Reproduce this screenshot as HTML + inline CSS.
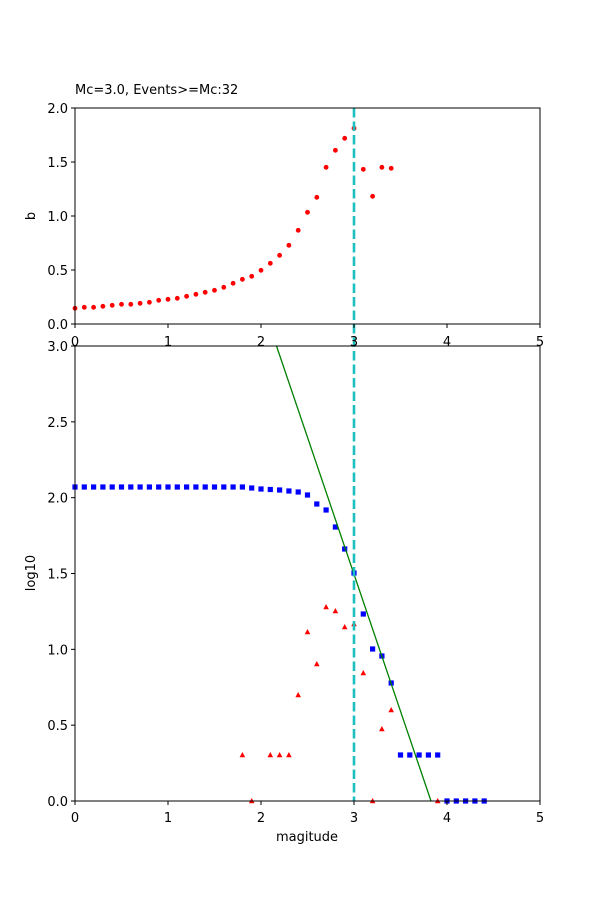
<!DOCTYPE html>
<html><head><meta charset="utf-8"><style>body{margin:0;background:#fff}svg{display:block}text{font-family:"DejaVu Sans","Liberation Sans",sans-serif;font-size:13px;fill:#000}</style></head>
<body>
<svg width="600" height="900" viewBox="0 0 600 900" xmlns="http://www.w3.org/2000/svg">
<rect width="600" height="900" fill="#fff"/>
<text x="75" y="94">Mc=3.0, Events&gt;=Mc:32</text>
<g fill="red" id="dots"></g>
<g fill="blue" id="sq"></g>
<g fill="red" id="tri"></g>
<line x1="276.5" y1="346" x2="431" y2="801" stroke="green" stroke-width="1.3"/>
<line x1="354" y1="108" x2="354" y2="801" stroke="#1ebfbf" stroke-width="2.6" stroke-dasharray="9.5,4"/>
<rect x="75" y="108" width="465" height="216" fill="none" stroke="#000" stroke-width="1"/>
<rect x="75" y="346" width="465" height="455" fill="none" stroke="#000" stroke-width="1"/>
<g stroke="#000" stroke-width="1" id="ticks"></g>
<g id="labels"></g>
<text x="35" y="216" transform="rotate(-90 35 216)" text-anchor="middle">b</text>
<text x="35" y="573" transform="rotate(-90 35 573)" text-anchor="middle">log10</text>
<text x="307" y="841" text-anchor="middle">magitude</text>
</svg>
<script>
var ns="http://www.w3.org/2000/svg";
function el(p,t,a,txt){var e=document.createElementNS(ns,t);for(var k in a)e.setAttribute(k,a[k]);if(txt!==undefined)e.textContent=txt;document.getElementById(p).appendChild(e);}
var zy=[685,682,682,679,676,673,673,670,667,661,658,655,649,643,637,631,622,610,598,589,571,550,526,496,451,397,352,262,211,175,145,268,349,262,265];
zy.forEach(function(v,i){el("dots","circle",{cx:75+9.3*i,cy:80+v/3,r:2.4});});
var sy=[487,487,487,487,487,487,487,487,487,487,487,487,487,487,487,487,487,487,487,488,489,489.5,490,491,492,495,504,510,527,549,573,614,649,656,683,755,755,755,755,755,801,801,801,801,801];
sy.forEach(function(v,i){var x=75+9.3*i;el("sq","rect",{x:x-2.6,y:v-2.6,width:5.2,height:5.2});});
var tr=[[1.8,755],[1.9,801],[2.1,755],[2.2,755],[2.3,755],[2.4,695],[2.5,632],[2.6,664],[2.7,607],[2.8,611],[2.9,627],[3.0,624],[3.1,673],[3.2,801],[3.3,729],[3.4,710],[3.9,801]];
tr.forEach(function(p){var x=75+93*p[0],y=p[1];el("tri","polygon",{points:(x-2.8)+","+(y+2.3)+" "+(x+2.8)+","+(y+2.3)+" "+x+","+(y-3)});});
for(var i=0;i<=5;i++){var x=75+93*i;
el("ticks","line",{x1:x,y1:324,x2:x,y2:328});el("ticks","line",{x1:x,y1:801,x2:x,y2:805});
el("labels","text",{x:x,y:346,"text-anchor":"middle"},String(i));
el("labels","text",{x:x,y:822,"text-anchor":"middle"},String(i));}
for(var k=0;k<=4;k++){var y=324-54*k;el("ticks","line",{x1:71,y1:y,x2:75,y2:y});
el("labels","text",{x:68,y:y+5,"text-anchor":"end"},(k*0.5).toFixed(1));}
for(var k=0;k<=6;k++){var y=801-75.83*k;el("ticks","line",{x1:71,y1:y,x2:75,y2:y});
el("labels","text",{x:68,y:y+5,"text-anchor":"end"},(k*0.5).toFixed(1));}
</script>
</body></html>
